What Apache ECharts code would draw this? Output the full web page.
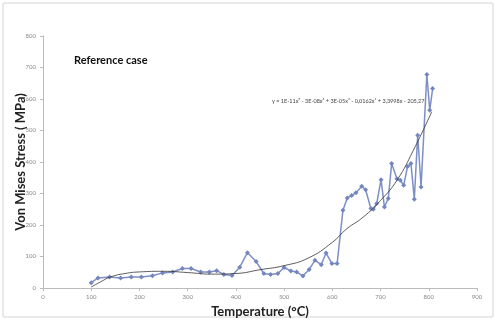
<!DOCTYPE html>
<html>
<head>
<meta charset="utf-8">
<script src="https://cdn.jsdelivr.net/npm/echarts@6/dist/echarts.min.js"></script>
<style>
  html, body { margin: 0; padding: 0; background: #fff; }
  #chart { width: 496px; height: 320px; }
</style>
</head>
<body>
<div id="chart"></div>
<script>
// measured points (temperature, stress)
var temps = [100, 114, 138, 161, 183, 204, 227, 248, 269, 289, 307, 327, 345, 360, 375, 392,
  408, 424, 442, 458, 472, 487, 500, 514, 526, 539, 552, 564, 577, 587, 599, 610,
  622, 631, 640, 649, 661, 669, 680, 685, 692, 701, 708, 716, 723, 734, 741, 748,
  756, 763, 770, 777, 784, 796, 802, 808]
var stress = [17, 32, 35, 32, 35, 35, 39, 48, 51, 62, 62, 51, 51, 55, 43, 40,
  66, 112, 84, 46, 43, 46, 65, 54, 51, 38, 59, 88, 74, 111, 78, 78,
  247, 286, 294, 302, 323, 312, 252, 250, 268, 344, 257, 284, 395, 347, 342, 326,
  386, 395, 282, 485, 321, 678, 564, 633]
// polynomial trend line
var trendT = [100, 120, 140, 170, 200, 250, 300, 350, 400, 450, 500, 550, 600, 630, 664, 700, 734, 768, 806]
var trendV = [3, 20, 35, 46, 51, 53, 49, 44, 46, 58, 71, 95, 145, 188, 225, 278, 342, 437, 559]
var xTicks = { min: 0, max: 900, interval: 100 }
var yTicks = { min: 0, max: 800, interval: 100 }

var chart = echarts.init(document.getElementById('chart'))
var pts = temps.map(function(t, i) { return [t, stress[i]] })
var trend = trendT.map(function(t, i) { return [t, trendV[i]] })

var axisCommon = {
  axisLine: { show: true, lineStyle: { color: '#bbb', width: 1 } },
  axisTick: { show: true, length: 3, lineStyle: { color: '#bbb' } },
  splitLine: { show: false },
  axisLabel: { color: '#888', fontSize: 6, fontFamily: 'Lato' },
  nameMoveOverlap: false,
  nameTextStyle: { color: '#222', fontSize: 13, fontWeight: 'bold', fontFamily: 'Lato' }
}

chart.setOption({
  animation: false,
  backgroundColor: '#fff',
  grid: { left: 43, right: 19, top: 36, bottom: 32, outerBoundsMode: 'none', containLabel: false },
  graphic: [
    {
      type: 'rect',
      shape: { x: 3, y: 3, width: 490, height: 314 },
      style: { fill: 'none', stroke: '#d4d4d4', lineWidth: 1 }
    },
    {
      type: 'text',
      left: 74, top: 55,
      style: { text: 'Reference case', fontSize: 11, fontWeight: 'bold', fontFamily: 'Lato', fill: '#111' }
    },
    {
      type: 'text',
      left: 272, top: 98,
      style: {
        text: 'y = 1E-11x\u2075 - 3E-08x\u2074 + 3E-05x\u00b3 - 0,0162x\u00b2 + 3,3998x - 205,27',
        fontSize: 5.5, fontFamily: 'Lato', fill: '#444'
      }
    }
  ],
  xAxis: Object.assign({}, axisCommon, {
    type: 'value',
    min: xTicks.min, max: xTicks.max, interval: xTicks.interval,
    name: 'Temperature (\u00b0C)',
    nameLocation: 'middle',
    nameGap: 17,
    axisLabel: Object.assign({}, axisCommon.axisLabel, { margin: 6 })
  }),
  yAxis: Object.assign({}, axisCommon, {
    type: 'value',
    min: yTicks.min, max: yTicks.max, interval: yTicks.interval,
    name: 'Von Mises Stress ( MPa)',
    nameLocation: 'middle',
    nameGap: 16,
    axisLabel: Object.assign({}, axisCommon.axisLabel, { margin: 7 })
  }),
  series: [
    {
      name: 'data',
      type: 'line',
      data: pts,
      symbol: 'diamond',
      symbolSize: 5,
      lineStyle: { color: '#7d8fc6', width: 1.5 },
      itemStyle: { color: '#7486c0' },
      z: 2
    },
    {
      name: 'trend',
      type: 'line',
      data: trend,
      smooth: true,
      showSymbol: false,
      lineStyle: { color: '#333', width: 0.8 },
      z: 3
    }
  ]
})
</script>
</body>
</html>
